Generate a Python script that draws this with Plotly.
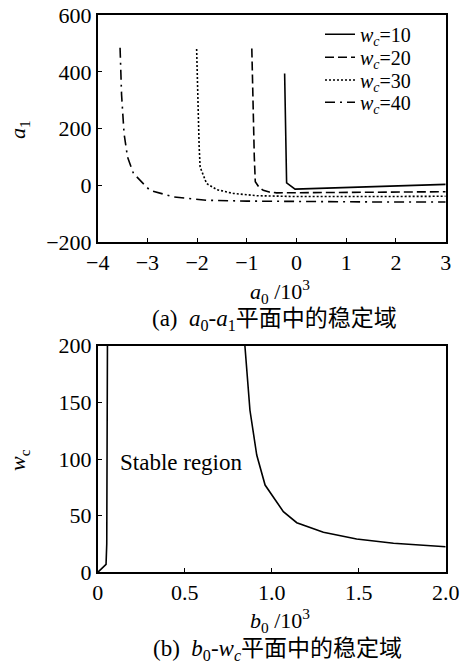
import plotly.graph_objects as go

# ---- data: panel (a) a0 (x10^3) vs a1 for several wc ----
a0_w10 = [-0.24, -0.20, -0.03, 3.0]
a1_w10 = [394, 9, -13, 4]

a0_w20 = [-0.90, -0.88, -0.85, -0.83, -0.76, -0.67, -0.55, -0.40, 0.5, 1.5, 3.0]
a1_w20 = [482, 300, 100, 13, -5, -17, -23, -26, -25, -24, -22]

a0_w30 = [-2.01, -1.99, -1.96, -1.94, -1.81, -1.60, -1.27, -0.80, 0.0, 1.5, 3.0]
a1_w30 = [480, 300, 140, 65, 7, -15, -28, -36, -39, -39, -38]

a0_w40 = [-3.55, -3.52, -3.47, -3.40, -3.28, -2.95, -2.48, -1.81, -1.0, 0.0, 1.5, 3.0]
a1_w40 = [485, 320, 183, 100, 42, -17, -40, -52, -55, -57, -58, -58]

series_names = ["<i>w</i><sub><i>c</i></sub>=10", "<i>w</i><sub><i>c</i></sub>=20",
                "<i>w</i><sub><i>c</i></sub>=30", "<i>w</i><sub><i>c</i></sub>=40"]

# ---- data: panel (b) b0 (x10^3) vs wc ----
b0_left = [0.0, 0.02, 0.048, 0.052, 0.054, 0.056]
wc_left = [0, 3, 7, 25, 100, 200]

b0_right = [0.846, 0.875, 0.914, 0.962, 1.067, 1.144, 1.297, 1.488, 1.70, 2.0]
wc_right = [200, 143, 103.5, 77, 53.5, 43.8, 35.3, 29.4, 25.6, 22.6]

a_xticks = [-4, -3, -2, -1, 0, 1, 2, 3]
a_yticks = [-200, 0, 200, 400, 600]
b_xticks = [0, 0.5, 1.0, 1.5, 2.0]
b_xlabels = ["0", "0.5", "1.0", "1.5", "2.0"]
b_yticks = [0, 50, 100, 150, 200]

FONT = "Liberation Serif, Times New Roman, serif"
CJK = "Liberation Serif, Noto Sans CJK SC, serif"

W, H = 461, 664


def px(x):
    return x / W


def py(y):
    return 1 - y / H


fig = go.Figure()
lw = 1.6
dashes = ["solid", "9px,4px", "2px,2px", "10px,5px,2px,5px"]
xs = [a0_w10, a0_w20, a0_w30, a0_w40]
ys = [a1_w10, a1_w20, a1_w30, a1_w40]
for i in range(4):
    fig.add_trace(go.Scatter(x=xs[i], y=ys[i], mode="lines",
                             line=dict(color="black", width=lw, dash=dashes[i]),
                             name=series_names[i], xaxis="x", yaxis="y",
                             legend="legend" if i == 0 else f"legend{i+1}"))

fig.add_trace(go.Scatter(x=b0_left, y=wc_left, mode="lines", line=dict(color="black", width=lw),
                         showlegend=False, xaxis="x2", yaxis="y2"))
fig.add_trace(go.Scatter(x=b0_right, y=wc_right, mode="lines", line=dict(color="black", width=lw),
                         showlegend=False, xaxis="x2", yaxis="y2"))

xd = [px(97.7), px(445.7)]
yd1 = [py(242.3), py(15)]
yd2 = [py(572.3), py(345.7)]

axis_common = dict(showline=True, linecolor="black", linewidth=1.5, mirror=True,
                   ticks="inside", ticklen=5, tickcolor="black", tickwidth=1.2,
                   showgrid=False, zeroline=False, automargin=False,
                   ticklabeloverflow="allow",
                   tickfont=dict(family=FONT, size=22, color="black"))

legend_rows = [34.3, 57.3, 80, 102.3]
legends = {}
for i, yr in enumerate(legend_rows):
    key = "legend" if i == 0 else f"legend{i+1}"
    legends[key] = dict(x=px(320), y=py(yr), xanchor="left", yanchor="middle",
                        bgcolor="rgba(0,0,0,0)", font=dict(family=FONT, size=20, color="black"),
                        itemwidth=30, borderwidth=0)

fig.update_layout(
    width=W, height=H,
    margin=dict(l=0, r=0, t=0, b=0),
    paper_bgcolor="white", plot_bgcolor="white",
    xaxis=dict(domain=xd, range=[-4, 3], anchor="y", tickvals=a_xticks, **axis_common),
    yaxis=dict(domain=yd1, range=[-200, 600], anchor="x", tickvals=a_yticks, **axis_common),
    xaxis2=dict(domain=xd, range=[0, 2.0], anchor="y2", tickvals=b_xticks, ticktext=b_xlabels, **axis_common),
    yaxis2=dict(domain=yd2, range=[0, 200], anchor="x2", tickvals=b_yticks, **axis_common),
    showlegend=True,
    **legends,
)

ann = [
    dict(x=280, y=292, text="<i>a</i><sub>0</sub> /10<sup>3</sup>", size=22),
    dict(x=274, y=320, text="(a)  <i>a</i><sub>0</sub>-<i>a</i><sub>1</sub>平面中的稳定域", size=23),
    dict(x=280, y=620, text="<i>b</i><sub>0</sub> /10<sup>3</sup>", size=22),
    dict(x=277, y=650, text="(b)  <i>b</i><sub>0</sub>-<i>w</i><sub><i>c</i></sub>平面中的稳定域", size=23),
]
for a in ann:
    fig.add_annotation(x=px(a["x"]), y=py(a["y"]), xref="paper", yref="paper", text=a["text"], showarrow=False,
                       xanchor="center", yanchor="middle", font=dict(family=CJK, size=a["size"], color="black"))

fig.add_annotation(x=px(19), y=py(130), xref="paper", yref="paper", text="<i>a</i><sub>1</sub>",
                   textangle=-90, showarrow=False, xanchor="center", yanchor="middle",
                   font=dict(family=FONT, size=22, color="black"))
fig.add_annotation(x=px(19), y=py(460), xref="paper", yref="paper", text="<i>w</i><sub>c</sub>",
                   textangle=-90, showarrow=False, xanchor="center", yanchor="middle",
                   font=dict(family=FONT, size=22, color="black"))
fig.add_annotation(x=0.48, y=97, xref="x2", yref="y2", text="Stable region", showarrow=False,
                   font=dict(family=FONT, size=23, color="black"))

fig.write_html("out.html", config={"displayModeBar": False},
               post_script="document.body.style.margin='0';document.body.style.overflow='hidden';")
